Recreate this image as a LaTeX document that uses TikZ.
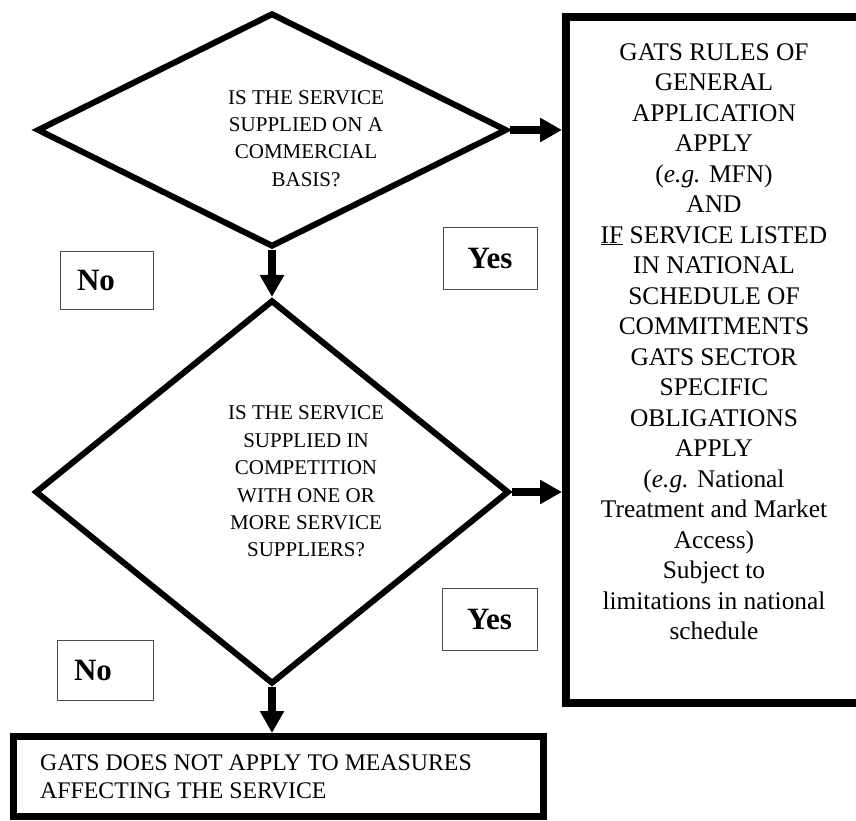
\documentclass[tikz,border=0pt]{standalone}
\usepackage{fontspec}
\setmainfont{Liberation Serif}
\usetikzlibrary{shapes.geometric,arrows.meta}
\begin{document}
\begin{tikzpicture}[x=1pt,y=1pt,
  dia/.style={diamond, draw, line width=6pt, inner sep=0pt, miter limit=20},
  dtext/.style={align=center, inner sep=0pt, font=\fontsize{21}{27.4}\selectfont},
  bigbox/.style={rectangle, draw, line width=8pt, inner sep=0pt},
  lowbox/.style={rectangle, draw, line width=7pt, inner sep=0pt},
  answer/.style={rectangle, draw=black!70, line width=1pt, inner sep=0pt,
    font=\fontsize{31}{36}\selectfont\bfseries},
  arr/.style={line width=8pt, -{Triangle[length=22pt,width=23pt]}}]
\useasboundingbox (0,0) rectangle (856,820);
% decisions
\node[dia, minimum width=470pt, minimum height=234pt] (d1) at (272,690) {};
\node[dtext] (t1) at (306,681.5) {IS THE SERVICE\\SUPPLIED ON A\\COMMERCIAL\\BASIS?};
\node[dia, minimum width=474pt, minimum height=384pt] (d2) at (272,328) {};
\node[dtext] (t2) at (306,338.5) {IS THE SERVICE\\SUPPLIED IN\\COMPETITION\\WITH ONE OR\\MORE SERVICE\\SUPPLIERS?};
% outcome boxes
\node[bigbox, minimum width=296pt, minimum height=686pt] (r) at (714,460) {};
\node[align=center, inner sep=0pt, anchor=north, font=\fontsize{25.4}{30.5}\selectfont] (rt) at (714,777)
 {GATS RULES OF\\GENERAL\\APPLICATION\\APPLY\\(\textit{e.g.} MFN)\\AND\\\underline{IF} SERVICE LISTED\\IN NATIONAL\\SCHEDULE OF\\COMMITMENTS\\GATS SECTOR\\SPECIFIC\\OBLIGATIONS\\APPLY\\(\textit{e.g.} National\\Treatment and Market\\Access)\\Subject to\\limitations in national\\schedule};
\node[lowbox, minimum width=530pt, minimum height=80pt] (b) at (278.5,43.5) {};
\node[align=left, inner sep=0pt, anchor=north west, font=\fontsize{23.8}{28}\selectfont] (bt) at (40,65)
 {GATS DOES NOT APPLY TO MEASURES\\AFFECTING THE SERVICE};
% answer labels
\node[answer, minimum width=94pt, minimum height=62pt] (y1) at (490,561) {Yes};
\node[answer, minimum width=93pt, minimum height=58pt, text width=59pt, inner xsep=17pt, align=left] (n1) at (106.5,539) {No};
\node[answer, minimum width=95pt, minimum height=62pt] (y2) at (489.5,201) {Yes};
\node[answer, minimum width=96pt, minimum height=60pt, text width=62pt, inner xsep=17pt, align=left] (n2) at (105,150) {No};
% connectors
\draw[arr] (d1.east) -- (d1.east -| r.west);
\draw[arr] (d2.east) -- (d2.east -| r.west);
\draw[arr] (d1.south) -- (d2.north);
\draw[arr] (d2.south) -- (d2.south |- b.north);
\end{tikzpicture}
\end{document}
